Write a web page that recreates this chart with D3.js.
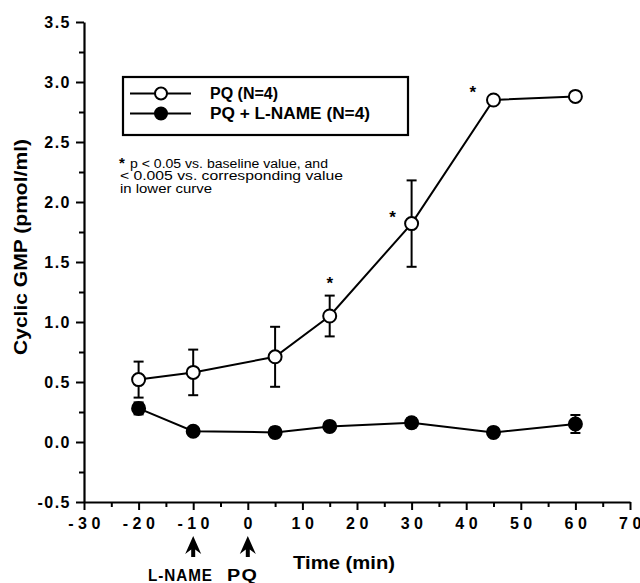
<!DOCTYPE html>
<html>
<head>
<meta charset="utf-8">
<script src="https://cdn.jsdelivr.net/npm/d3@7"></script>
<style>
  body { margin: 0; background: #fff; }
  svg { display: block; }
  text { font-family: "Liberation Sans", Arial, Helvetica, sans-serif; fill: #000; }
</style>
</head>
<body>
<svg id="chart"></svg>
<script>
// data
var times = [-20, -10, 5, 15, 30, 45, 60];
var pq = [0.52, 0.58, 0.71, 1.05, 1.82, 2.85, 2.88];
var pqSem = [0.15, 0.19, 0.25, 0.17, 0.36, 0, 0];
var lname = [0.28, 0.09, 0.08, 0.13, 0.16, 0.08, 0.15];
var lnameSem = [0.05, 0.02, 0.04, 0.02, 0.04, 0.02, 0.075];

var starTimes = [15, 26.5, 41.2];
var starValues = [1.36, 1.91, 2.95];

var xTicks = [-30, -20, -10, 0, 10, 20, 30, 40, 50, 60, 70];
var yTicks = [-0.5, 0.0, 0.5, 1.0, 1.5, 2.0, 2.5, 3.0, 3.5];
var arrowTimes = [-10, 0];
var arrowLabels = ["L-NAME", "PQ"];
var legendLabels = ["PQ (N=4)", "PQ + L-NAME (N=4)"];
var noteLines = ["p < 0.05 vs. baseline value, and", "< 0.005 vs. corresponding value", "in lower curve"];

var W = 640, H = 583;
var margin = {top: 22, right: 10, bottom: 81, left: 84};

var svg = d3.select("#chart").attr("width", W).attr("height", H);

var x = d3.scaleLinear().domain([-30, 70]).range([margin.left, 630]);
var y = d3.scaleLinear().domain([-0.5, 3.5]).range([H - margin.bottom, margin.top]);

// helper: stretch a text to a measured width (reference face is wider)
function fit(sel, w) {
  sel.attr("textLength", w).attr("lengthAdjust", "spacingAndGlyphs");
}

// minor ticks
svg.append("g")
  .attr("transform", "translate(0," + y(-0.5) + ")")
  .call(d3.axisBottom(x).tickValues(d3.range(-25, 70, 10)).tickSize(5).tickFormat(""))
  .call(function(g) { g.select(".domain").remove(); g.selectAll("line").attr("stroke-width", 2); });

svg.append("g")
  .attr("transform", "translate(" + x(-30) + ",0)")
  .call(d3.axisLeft(y).tickValues(d3.range(-0.25, 3.5, 0.5)).tickSize(5).tickFormat(""))
  .call(function(g) { g.select(".domain").remove(); g.selectAll("line").attr("stroke-width", 2); });

// main axes
var xAxis = svg.append("g")
  .attr("transform", "translate(0," + y(-0.5) + ")")
  .call(d3.axisBottom(x).tickValues(xTicks).tickSize(8).tickSizeOuter(0).tickPadding(8));

var yAxis = svg.append("g")
  .attr("transform", "translate(" + x(-30) + ",0)")
  .call(d3.axisLeft(y).tickValues(yTicks).tickSize(8).tickSizeOuter(0).tickPadding(5));

[xAxis, yAxis].forEach(function(a) {
  a.select(".domain").attr("stroke-width", 2.2);
  a.selectAll(".tick line").attr("stroke-width", 2);
  a.selectAll(".tick text").attr("font-weight", "bold").attr("font-size", 16);
});
xAxis.selectAll(".tick text")
  .style("letter-spacing", "4.5px")
  .attr("dx", 2)
  .text(function(d) { return d3.format("d")(d).replace("−", "-"); });
yAxis.selectAll(".tick text")
  .style("letter-spacing", "1.5px")
  .attr("dy", "0.36em")
  .text(function(d) { return d3.format(".1f")(d).replace("−", "-"); });

// axis titles
svg.append("text")
  .attr("transform", "translate(27,247) rotate(-90)")
  .attr("text-anchor", "middle")
  .attr("font-weight", "bold")
  .attr("font-size", 18)
  .call(fit, 216)
  .text("Cyclic GMP (pmol/ml)");

svg.append("text")
  .attr("x", 293).attr("y", 569)
  .attr("font-weight", "bold")
  .attr("font-size", 18)
  .call(fit, 102)
  .text("Time (min)");

// arrows for drug additions
var arrow = svg.selectAll(".arrow")
  .data(arrowTimes)
  .enter().append("g")
    .attr("class", "arrow")
    .attr("transform", function(d) { return "translate(" + x(d) + ",536)"; });

arrow.append("path")
  .attr("d", "M0,0 L8,18 L2,13.5 L2,21 L-2,21 L-2,13.5 L-8,18 Z")
  .attr("fill", "#000");

var arrowLabelX = [148, 227];
var arrowLabelW = [65, 31];
svg.selectAll(".arrow-label")
  .data(arrowLabels)
  .enter().append("text")
    .attr("class", "arrow-label")
    .attr("x", function(d, i) { return arrowLabelX[i]; })
    .attr("y", 581)
    .attr("font-weight", "bold")
    .attr("font-size", 16)
    .style("letter-spacing", "1px")
    .attr("textLength", function(d, i) { return arrowLabelW[i]; })
    .attr("lengthAdjust", "spacingAndGlyphs")
    .text(function(d) { return d; });

// series
var series = [
  {vals: pq, sem: pqSem, fill: "#fff"},
  {vals: lname, sem: lnameSem, fill: "#000"}
];

var line = d3.line()
  .x(function(d) { return x(d[0]); })
  .y(function(d) { return y(d[1]); });

series.forEach(function(s) {
  var pts = times.map(function(t, i) { return [t, s.vals[i], s.sem[i]]; });

  svg.append("path")
    .datum(pts)
    .attr("d", line)
    .attr("fill", "none")
    .attr("stroke", "#000")
    .attr("stroke-width", 2);

  var eb = svg.append("g").selectAll("g")
    .data(pts.filter(function(d) { return d[2] > 0; }))
    .enter().append("g")
      .attr("stroke", "#000")
      .attr("stroke-width", 2);

  eb.append("line")
    .attr("x1", function(d) { return x(d[0]); })
    .attr("x2", function(d) { return x(d[0]); })
    .attr("y1", function(d) { return y(d[1] - d[2]); })
    .attr("y2", function(d) { return y(d[1] + d[2]); });

  [-1, 1].forEach(function(sign) {
    eb.append("line")
      .attr("x1", function(d) { return x(d[0]) - 5; })
      .attr("x2", function(d) { return x(d[0]) + 5; })
      .attr("y1", function(d) { return y(d[1] + sign * d[2]); })
      .attr("y2", function(d) { return y(d[1] + sign * d[2]); });
  });

  svg.append("g").selectAll("circle")
    .data(pts)
    .enter().append("circle")
      .attr("cx", function(d) { return x(d[0]); })
      .attr("cy", function(d) { return y(d[1]); })
      .attr("r", 6.5)
      .attr("fill", s.fill)
      .attr("stroke", "#000")
      .attr("stroke-width", 2);
});

// significance stars
svg.selectAll(".star")
  .data(starTimes)
  .enter().append("text")
    .attr("class", "star")
    .attr("x", function(d) { return x(d); })
    .attr("y", function(d, i) { return y(starValues[i]) + 10; })
    .attr("text-anchor", "middle")
    .attr("font-weight", "bold")
    .attr("font-size", 17)
    .text("*");

// legend
var legend = svg.append("g");
legend.append("rect")
  .attr("x", 123).attr("y", 77)
  .attr("width", 285).attr("height", 58)
  .attr("fill", "none")
  .attr("stroke", "#000")
  .attr("stroke-width", 2.2);

var legendW = [68, 160];
var item = legend.selectAll(".item")
  .data(legendLabels)
  .enter().append("g")
    .attr("class", "item")
    .attr("transform", function(d, i) { return "translate(0," + (93.5 + i * 20) + ")"; });

item.append("line")
  .attr("x1", 130).attr("x2", 191)
  .attr("stroke", "#000").attr("stroke-width", 2);

item.append("circle")
  .attr("cx", 161).attr("r", 6)
  .attr("fill", function(d, i) { return series[i].fill; })
  .attr("stroke", "#000").attr("stroke-width", 2);

item.append("text")
  .attr("x", 210).attr("y", 5.5)
  .attr("font-weight", "bold")
  .attr("font-size", 16)
  .attr("textLength", function(d, i) { return legendW[i]; })
  .attr("lengthAdjust", "spacingAndGlyphs")
  .text(function(d) { return d; });

// footnote
var noteX = [130, 120, 120];
var noteW = [198, 223, 92];
svg.append("text")
  .attr("x", 119).attr("y", 168)
  .attr("font-weight", "bold")
  .attr("font-size", 15)
  .text("*");

svg.selectAll(".note")
  .data(noteLines)
  .enter().append("text")
    .attr("class", "note")
    .attr("x", function(d, i) { return noteX[i]; })
    .attr("y", function(d, i) { return 168 + i * 12.4; })
    .attr("font-size", 12)
    .attr("textLength", function(d, i) { return noteW[i]; })
    .attr("lengthAdjust", "spacingAndGlyphs")
    .text(function(d) { return d; });
</script>
</body>
</html>
